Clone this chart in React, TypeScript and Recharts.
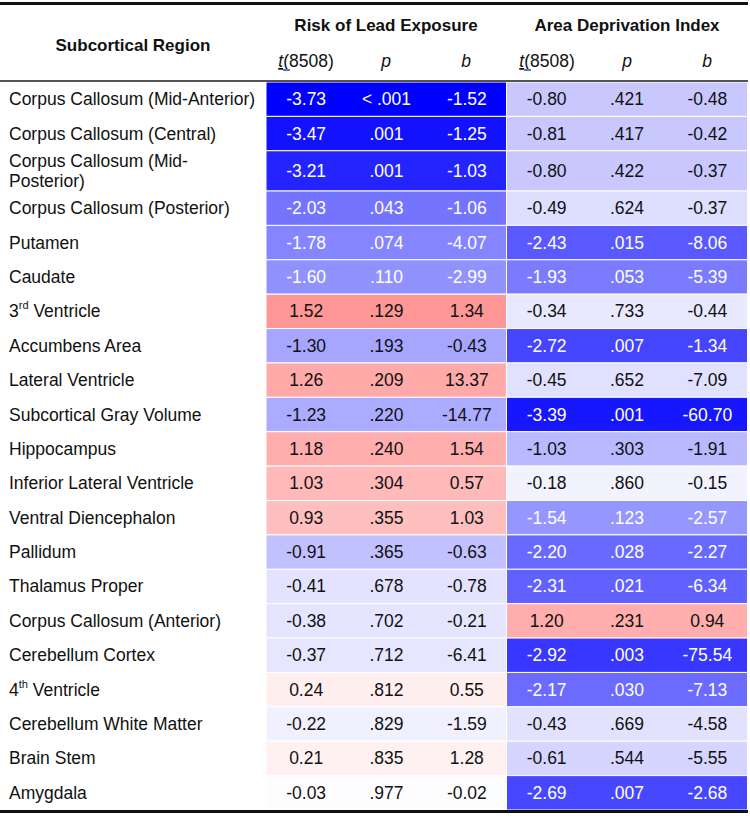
import React from "react";
import { BarChart, Bar, XAxis, YAxis, Cell, LabelList } from "recharts";

const regions = [
  "Corpus Callosum (Mid-Anterior)",
  "Corpus Callosum (Central)",
  "Corpus Callosum (Mid-\nPosterior)",
  "Corpus Callosum (Posterior)",
  "Putamen",
  "Caudate",
  "3rd Ventricle",
  "Accumbens Area",
  "Lateral Ventricle",
  "Subcortical Gray Volume",
  "Hippocampus",
  "Inferior Lateral Ventricle",
  "Ventral Diencephalon",
  "Pallidum",
  "Thalamus Proper",
  "Corpus Callosum (Anterior)",
  "Cerebellum Cortex",
  "4th Ventricle",
  "Cerebellum White Matter",
  "Brain Stem",
  "Amygdala",
];

const leadT = [-3.73, -3.47, -3.21, -2.03, -1.78, -1.6, 1.52, -1.3, 1.26, -1.23, 1.18, 1.03, 0.93, -0.91, -0.41, -0.38, -0.37, 0.24, -0.22, 0.21, -0.03];
const leadP = ["< .001", ".001", ".001", ".043", ".074", ".110", ".129", ".193", ".209", ".220", ".240", ".304", ".355", ".365", ".678", ".702", ".712", ".812", ".829", ".835", ".977"];
const leadB = [-1.52, -1.25, -1.03, -1.06, -4.07, -2.99, 1.34, -0.43, 13.37, -14.77, 1.54, 0.57, 1.03, -0.63, -0.78, -0.21, -6.41, 0.55, -1.59, 1.28, -0.02];

const adiT = [-0.8, -0.81, -0.8, -0.49, -2.43, -1.93, -0.34, -2.72, -0.45, -3.39, -1.03, -0.18, -1.54, -2.2, -2.31, 1.2, -2.92, -2.17, -0.43, -0.61, -2.69];
const adiP = [".421", ".417", ".422", ".624", ".015", ".053", ".733", ".007", ".652", ".001", ".303", ".860", ".123", ".028", ".021", ".231", ".003", ".030", ".669", ".544", ".007"];
const adiB = [-0.48, -0.42, -0.37, -0.37, -8.06, -5.39, -0.44, -1.34, -7.09, -60.7, -1.91, -0.15, -2.57, -2.27, -6.34, 0.94, -75.54, -7.13, -4.58, -5.55, -2.68];

const blocks = ["Risk of Lead Exposure", "Area Deprivation Index"];

const FONT = "'Liberation Sans', Arial, Helvetica, sans-serif";
const MAX_T = 3.73;

// row heights in units (two-line label gets a taller row)
const rowSpan = regions.map((r) => (r.includes("\n") ? 1.17 : 1));
const total = rowSpan.reduce((a, b) => a + b, 0);
const centers: number[] = [];
rowSpan.reduce((acc, s) => {
  centers.push(acc + s / 2);
  return acc + s;
}, 0);

// one object per block column, one key per row (stacked)
const data = blocks.map((name) => {
  const o: any = { block: name };
  rowSpan.forEach((s, i) => (o[`r${i}`] = s));
  return o;
});

const tColor = (t: number) => {
  const f = Math.min(Math.abs(t) / MAX_T, 1);
  const c = Math.round(255 * (1 - f));
  return t < 0 ? `rgb(${c},${c},255)` : `rgb(255,${c},${c})`;
};

const fmt = (v: number) => v.toFixed(2);

const renderLine = (line: string) => {
  const m = line.match(/^(\d+)(st|nd|rd|th)(.*)$/);
  if (!m) return line;
  return (
    <>
      {m[1]}
      <tspan dy={-6} fontSize={11}>{m[2]}</tspan>
      <tspan dy={6}>{m[3]}</tspan>
    </>
  );
};

const RegionTick = (props: any) => {
  const { y, payload } = props;
  let idx = 0;
  centers.forEach((c, i) => {
    if (Math.abs(c - payload.value) < Math.abs(centers[idx] - payload.value)) idx = i;
  });
  const lines = regions[idx].split("\n");
  return (
    <g>
      {lines.map((ln, k) => (
        <text
          key={k}
          x={9}
          y={y + (k - (lines.length - 1) / 2) * 20}
          dominantBaseline="central"
          fontFamily={FONT}
          fontSize={17.5}
          fill="#111"
        >
          {renderLine(ln)}
        </text>
      ))}
    </g>
  );
};

const cellText = (row: number) => (p: any) => {
  const { x, y, width, height, index } = p;
  const t = index === 0 ? leadT[row] : adiT[row];
  const pv = index === 0 ? leadP[row] : adiP[row];
  const b = index === 0 ? leadB[row] : adiB[row];
  const fill = t < -1.5 ? "#fff" : "#111";
  const cy = y + height / 2;
  const vals = [fmt(t), pv, fmt(b)];
  return (
    <g>
      {vals.map((v, k) => (
        <text
          key={k}
          x={x + (width * (2 * k + 1)) / 6}
          y={cy}
          textAnchor="middle"
          dominantBaseline="central"
          fontFamily={FONT}
          fontSize={17.5}
          fill={fill}
        >
          {v}
        </text>
      ))}
    </g>
  );
};

const Header = () => (
  <svg
    width={750}
    height={818}
    style={{ position: "absolute", left: 0, top: 0, pointerEvents: "none" }}
  >
    <rect x={0} y={2} width={748} height={3} fill="#111" />
    <rect x={0} y={80} width={748} height={2} fill="#555" />
    <rect x={0} y={810} width={748} height={3} fill="#111" />
    <g fontFamily={FONT} fill="#111">
      <text x={133} y={51} textAnchor="middle" fontWeight="bold" fontSize={17}>
        Subcortical Region
      </text>
      <text x={386} y={31} textAnchor="middle" fontWeight="bold" fontSize={17}>
        Risk of Lead Exposure
      </text>
      <text x={627} y={31} textAnchor="middle" fontWeight="bold" fontSize={17}>
        Area Deprivation Index
      </text>
      {[266, 507].map((x0) => (
        <g key={x0} fontSize={17.5}>
          <text x={x0 + 40} y={67} textAnchor="middle">
            <tspan fontStyle="italic" textDecoration="underline">t</tspan>(8508)
          </text>
          <rect x={x0 + 17} y={69} width={7} height={2} fill="#4a7fd0" />
          <text x={x0 + 120} y={67} textAnchor="middle" fontStyle="italic">p</text>
          <text x={x0 + 200} y={67} textAnchor="middle" fontStyle="italic">b</text>
        </g>
      ))}
    </g>
  </svg>
);

export default function App() {
  return (
    <div style={{ position: "relative", width: 750, height: 818, background: "#fff" }}>
      <style>{"body{margin:0}"}</style>
      <BarChart
        width={750}
        height={818}
        data={data}
        margin={{ top: 82, right: 3, bottom: 8, left: 0 }}
        barCategoryGap={0}
        barGap={0}
      >
        <XAxis dataKey="block" type="category" hide />
        <YAxis
          type="number"
          domain={[0, total]}
          reversed
          ticks={centers}
          interval={0}
          width={266}
          axisLine={false}
          tickLine={false}
          tick={<RegionTick />}
        />
        {regions.map((_, i) => (
          <Bar key={i} dataKey={`r${i}`} stackId="rows" isAnimationActive={false}>
            {data.map((_, j) => (
              <Cell
                key={j}
                fill={tColor(j === 0 ? leadT[i] : adiT[i])}
                stroke="#fff"
                strokeWidth={1}
              />
            ))}
            <LabelList dataKey={`r${i}`} content={cellText(i)} />
          </Bar>
        ))}
      </BarChart>
      <Header />
    </div>
  );
}
